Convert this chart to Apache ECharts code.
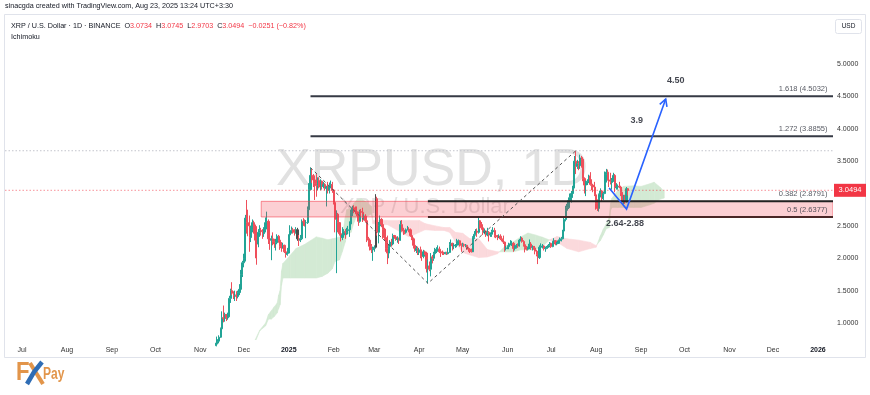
<!DOCTYPE html>
<html>
<head>
<meta charset="utf-8">
<title>XRPUSD 1D</title>
<script src="https://cdn.jsdelivr.net/npm/echarts@6/dist/echarts.min.js"></script>
<style>
html,body{margin:0;padding:0;background:#ffffff;}
#chart{width:870px;height:395px;}
</style>
</head>
<body>
<div id="chart"></div>
<script>
// ---------------- DATA ----------------
const startDate = '2024-11-09';
const firstOpen = 0.55;
const closes = [
  0.56,0.62,0.65,0.69,0.72,0.78,0.91,1.08,1.07,1.13,1.08,1.10,1.38,1.50,1.46,1.43,1.43,1.41,1.47,1.52,1.75,1.93,
  1.99,2.62,2.55,2.50,2.32,2.45,2.55,2.49,2.28,2.22,2.40,2.43,2.41,2.38,2.45,2.55,2.57,2.30,2.28,2.30,2.26,2.22,2.24,2.34,2.28,2.18,2.16,2.20,2.10,2.06,2.08,
  2.36,2.43,2.44,2.42,2.40,2.44,2.30,2.28,2.30,2.57,2.56,2.55,2.55,2.75,3.06,3.28,3.26,3.21,3.15,3.12,3.20,3.10,3.19,3.11,3.14,3.08,3.10,3.05,3.12,3.14,3.05,
  2.86,2.60,2.68,2.55,2.38,2.32,2.36,2.41,2.40,2.43,2.44,2.53,2.70,2.78,2.75,2.72,2.70,2.57,2.72,2.71,2.63,2.65,2.58,2.30,2.28,2.18,2.13,2.15,
  2.17,2.92,2.40,2.50,2.60,2.52,2.45,2.32,2.15,2.08,2.18,2.25,2.22,2.35,2.33,2.29,2.30,2.28,2.52,2.43,2.42,2.40,2.44,2.45,2.44,2.35,2.30,2.20,2.12,2.15,2.09,
  2.13,2.05,2.03,2.10,2.08,1.84,1.88,1.83,2.02,2.00,2.07,2.14,2.14,2.14,2.10,2.09,2.08,2.07,2.09,2.07,2.09,2.21,2.23,2.19,2.20,2.20,2.26,2.27,2.21,2.20,
  2.21,2.20,2.20,2.15,2.14,2.12,2.10,2.32,2.37,2.42,2.40,2.58,2.52,2.47,2.40,2.42,2.36,2.40,2.36,2.37,2.41,2.43,2.35,2.34,2.33,2.34,2.30,2.29,2.25,2.15,2.16,
  2.18,2.22,2.22,2.23,2.15,2.17,2.20,2.19,2.28,2.31,2.26,2.21,2.17,2.14,2.16,2.22,2.17,2.17,2.16,2.11,2.06,2.01,2.17,2.18,2.19,2.15,2.15,2.17,2.20,2.23,
  2.18,2.26,2.27,2.22,2.23,2.27,2.29,2.30,2.42,2.60,2.74,2.78,2.89,2.94,3.00,3.10,3.50,3.42,3.46,3.43,3.55,3.53,3.23,3.13,3.17,3.19,3.27,3.14,3.13,3.10,2.98,
  2.85,2.77,2.98,3.04,2.92,3.00,3.30,3.33,3.21,3.19,3.17,3.20,3.28,3.09,3.10,3.11,3.10,3.02,2.87,2.96,2.87,3.0745,3.0494
];
const highs = [
  0.57,0.64,0.67,0.79,0.75,0.81,0.93,1.18,1.27,1.16,1.14,1.16,1.42,1.53,1.63,1.49,1.50,1.49,1.50,1.60,1.82,1.96,
  2.07,2.67,2.90,2.75,2.66,2.50,2.60,2.58,2.52,2.37,2.45,2.51,2.47,2.45,2.48,2.63,2.72,2.60,2.44,2.35,2.40,2.30,2.30,2.37,2.36,2.29,2.25,2.24,2.21,2.14,2.16,
  2.37,2.51,2.49,2.47,2.45,2.48,2.47,2.36,2.36,2.60,2.62,2.60,2.59,2.80,3.16,3.40,3.38,3.30,3.28,3.30,3.25,3.25,3.22,3.20,3.18,3.16,3.12,3.18,3.17,3.20,3.18,
  3.07,2.92,2.74,2.70,2.56,2.45,2.48,2.45,2.45,2.47,2.50,2.57,2.75,2.81,2.82,2.80,2.80,2.72,2.75,2.76,2.78,2.68,2.68,2.60,2.33,2.30,2.22,2.18,
  2.20,2.99,2.95,2.56,2.66,2.62,2.60,2.47,2.33,2.35,2.22,2.28,2.30,2.38,2.36,2.35,2.34,2.32,2.58,2.59,2.47,2.44,2.46,2.50,2.48,2.46,2.37,2.32,2.20,2.19,2.18,
  2.16,2.18,2.07,2.13,2.12,2.10,1.98,1.95,2.08,2.05,2.10,2.16,2.17,2.20,2.18,2.12,2.12,2.10,2.10,2.10,2.16,2.25,2.29,2.24,2.23,2.22,2.30,2.29,2.28,2.23,
  2.24,2.23,2.22,2.20,2.17,2.15,2.15,2.34,2.42,2.45,2.46,2.65,2.58,2.56,2.50,2.46,2.43,2.47,2.42,2.40,2.44,2.48,2.47,2.39,2.36,2.37,2.37,2.31,2.35,2.26,2.19,
  2.20,2.24,2.28,2.27,2.25,2.20,2.22,2.23,2.30,2.34,2.33,2.28,2.22,2.19,2.18,2.29,2.25,2.20,2.19,2.19,2.13,2.08,2.20,2.23,2.22,2.20,2.18,2.19,2.22,2.25,
  2.24,2.27,2.31,2.28,2.25,2.29,2.32,2.33,2.44,2.64,2.81,2.84,2.94,3.00,3.04,3.12,3.58,3.66,3.52,3.50,3.60,3.58,3.56,3.25,3.20,3.22,3.29,3.33,3.22,3.15,3.18,
  3.00,2.91,3.00,3.08,3.05,3.03,3.34,3.38,3.37,3.26,3.32,3.24,3.32,3.30,3.16,3.14,3.18,3.12,3.05,2.98,2.98,3.10,3.0745
];
const lows = [
  0.54,0.56,0.60,0.64,0.67,0.70,0.77,0.90,1.01,1.02,1.03,1.05,1.09,1.31,1.43,1.37,1.34,1.34,1.38,1.43,1.50,1.71,
  1.86,1.95,2.38,2.34,2.10,2.25,2.40,2.38,2.00,1.90,2.17,2.33,2.35,2.30,2.33,2.40,2.48,2.22,2.13,1.97,2.20,2.16,2.12,2.22,2.24,2.13,2.10,2.15,2.08,2.01,2.04,
  2.07,2.33,2.38,2.38,2.35,2.38,2.27,2.19,2.25,2.28,2.50,2.49,2.31,2.53,2.73,3.05,3.16,3.10,2.90,2.95,3.05,3.08,3.05,3.06,3.08,3.05,2.80,3.00,3.00,3.08,3.01,
  2.83,2.40,1.77,2.40,2.35,2.26,2.28,2.33,2.30,2.36,2.37,2.33,2.50,2.65,2.70,2.68,2.65,2.50,2.55,2.65,2.56,2.60,2.55,2.25,2.18,2.12,2.08,1.96,
  2.10,2.15,2.35,2.23,2.45,2.48,2.30,2.28,2.10,1.91,2.00,2.12,2.18,2.20,2.30,2.27,2.24,2.22,2.27,2.41,2.36,2.37,2.38,2.43,2.40,2.33,2.28,2.15,2.10,2.08,2.05,
  2.05,2.00,1.96,2.00,2.05,1.78,1.61,1.80,1.72,1.92,1.96,2.04,2.08,2.10,2.08,2.02,2.05,2.05,2.06,2.05,2.06,2.08,2.15,2.12,2.14,2.16,2.17,2.20,2.18,2.10,
  2.18,2.17,2.17,2.13,2.10,2.08,2.09,2.10,2.30,2.35,2.33,2.38,2.45,2.44,2.36,2.37,2.33,2.34,2.26,2.33,2.33,2.39,2.32,2.31,2.28,2.31,2.28,2.26,2.22,2.10,2.12,
  2.14,2.14,2.20,2.19,2.10,2.12,2.15,2.16,2.18,2.26,2.24,2.18,2.09,2.12,2.12,2.14,2.13,2.12,2.13,2.06,2.03,1.91,1.99,2.14,2.15,2.12,2.10,2.14,2.16,2.17,
  2.16,2.17,2.24,2.20,2.20,2.22,2.25,2.26,2.29,2.40,2.57,2.66,2.76,2.85,2.86,2.94,3.08,3.30,3.38,3.36,3.38,3.40,3.19,3.00,2.96,3.13,3.16,3.12,3.05,3.02,2.96,
  2.75,2.73,2.72,2.94,2.88,2.90,2.99,3.17,3.20,3.10,3.14,3.06,3.18,3.02,3.06,3.06,3.08,2.96,2.85,2.83,2.84,2.86,2.9703
];
const darkCandles = ['2025-01-07', '2025-03-02'];

// Ichimoku cloud (Leading span A / B)
const cloudDates = [
  '2024-12-08','2024-12-12','2024-12-16','2024-12-18','2024-12-20','2024-12-22','2024-12-24','2024-12-25','2024-12-26','2024-12-27','2024-12-28',
  '2025-01-02','2025-01-06','2025-01-12','2025-01-20','2025-01-24','2025-01-28','2025-01-31',
  '2025-02-02','2025-02-05','2025-02-07','2025-02-09','2025-02-10','2025-02-13','2025-02-15','2025-02-17','2025-02-20','2025-02-24','2025-02-27','2025-02-28',
  '2025-03-05','2025-03-10','2025-03-18','2025-03-25',
  '2025-04-01','2025-04-05','2025-04-12','2025-04-18','2025-04-22','2025-04-26',
  '2025-05-01','2025-05-06','2025-05-12','2025-05-18','2025-05-25','2025-05-30',
  '2025-06-05','2025-06-10','2025-06-15','2025-06-20','2025-06-25','2025-06-30',
  '2025-07-05','2025-07-12','2025-07-20','2025-07-28',
  '2025-08-01','2025-08-04','2025-08-06','2025-08-08','2025-08-10','2025-08-11','2025-08-12','2025-08-16','2025-08-20','2025-08-27',
  '2025-09-01','2025-09-07','2025-09-10','2025-09-14','2025-09-17'
];
const spanA = [
  0.70,0.89,1.00,1.13,1.19,1.25,1.305,1.43,1.50,1.805,1.92,
  2.045,2.15,2.215,2.33,2.31,2.285,2.30,
  2.31,2.33,2.35,2.63,2.75,2.78,2.85,2.90,2.92,2.86,2.80,2.535,
  2.52,2.52,2.42,2.33,
  2.40,2.44,2.43,2.43,2.40,2.25,
  2.09,2.05,2.01,2.02,2.07,2.18,
  2.255,2.33,2.39,2.36,2.325,2.28,
  2.25,2.15,2.10,2.15,
  2.17,2.35,2.45,2.53,2.62,2.85,2.93,3.05,3.11,3.12,
  3.11,3.15,3.175,3.10,3.03
];
const spanB = [
  0.66,0.88,0.955,1.06,1.06,1.10,1.155,1.225,1.28,1.58,1.695,
  1.695,1.695,1.695,1.695,1.72,1.77,1.835,
  1.955,1.975,2.105,2.25,2.37,2.40,2.555,2.65,2.65,2.65,2.685,2.585,
  2.585,2.585,2.585,2.585,
  2.585,2.535,2.50,2.475,2.475,2.40,
  2.385,2.30,2.30,2.135,2.10,2.10,
  2.10,2.13,2.13,2.13,2.185,2.285,
  2.335,2.30,2.28,2.245,
  2.195,2.275,2.36,2.455,2.475,2.745,2.785,2.785,2.785,2.785,
  2.785,2.825,2.85,2.91,2.93
];

// Drawings
const fibExtStart = '2025-01-16';
const fibExtLevels = [['1.618', 4.5032], ['1.272', 3.8855]];
const fibRetStart = '2025-04-07';
const fibRetLevels = [['0.382', 2.8791], ['0.5', 2.6377]];
const zoneStart = '2024-12-13';
const zoneRange = [2.6377, 2.8791];
const swingPoints = [['2025-01-16', 3.40], ['2025-04-07', 1.613], ['2025-07-18', 3.6606]];
const highLevel = 3.6606;
const lastPrice = 3.0494;
const projection = [['2025-08-10', 3.085], ['2025-08-22', 2.76], ['2025-09-18', 4.46]];
const notes = [['4.50', '2025-09-25', 4.74], ['3.9', '2025-08-29', 4.12], ['2.64-2.88', '2025-08-21', 2.53]];
const quote = { o: '3.0734', h: '3.0745', l: '2.9703', c: '3.0494', chg: '\u22120.0251 (\u22120.82%)' };

// ---------------- CHART ----------------
const DAY = 86400000;
const T = s => Date.parse(s + 'T00:00:00Z');
const X0 = T('2024-07-01');
const xMin = X0 - 11.73 * DAY;
const xMax = X0 + 559.4 * DAY;
const yMin = 0.7375, yMax = 5.757;
const FONT = '"Liberation Sans", Arial, sans-serif';
const UP = '#22a496', DOWN = '#ef4f5b', DARK = '#4a4a4a';
const CLOUD_UP = '#d3ead4', CLOUD_DN = '#fbd9dc';

const candles = closes.map((c, i) => {
  const t = T(startDate) + i * DAY;
  const o = i === 0 ? firstOpen : closes[i - 1];
  const item = { value: [t, o, c, lows[i], highs[i]] };
  if (darkCandles.includes(new Date(t).toISOString().slice(0, 10))) {
    item.itemStyle = { color: DARK, color0: DARK, borderColor: DARK, borderColor0: DARK };
  }
  return item;
});

const cloudSegs = [];
for (let i = 0; i < cloudDates.length - 1; i++) {
  cloudSegs.push([T(cloudDates[i]), spanA[i], spanB[i], T(cloudDates[i + 1]), spanA[i + 1], spanB[i + 1]]);
}

const chart = echarts.init(document.getElementById('chart'), null, { renderer: 'canvas' });

const hLine = (y0, name, color, width, type, x0) => ({
  type: 'line', name, silent: true, symbol: 'none', animation: false,
  data: [[x0 !== undefined ? x0 : xMin, y0], [xMax, y0]],
  lineStyle: { color, width, type }, z: 5
});

const series = [];

// Ichimoku cloud
series.push({
  type: 'custom', name: 'cloud', silent: true, clip: true, z: 1, animation: false,
  data: cloudSegs,
  encode: { x: [0, 3], y: [1, 2, 4, 5] },
  renderItem(params, api) {
    const t1 = api.value(0), a1 = api.value(1), b1 = api.value(2);
    const t2 = api.value(3), a2 = api.value(4), b2 = api.value(5);
    const d1 = a1 - b1, d2 = a2 - b2;
    const polys = [];
    if (d1 * d2 < 0) {
      const f = d1 / (d1 - d2);
      const tc = t1 + (t2 - t1) * f, vc = a1 + (a2 - a1) * f;
      polys.push({ p: [[t1, a1], [tc, vc], [t1, b1]], up: d1 > 0 });
      polys.push({ p: [[tc, vc], [t2, a2], [t2, b2]], up: d2 > 0 });
    } else {
      polys.push({ p: [[t1, a1], [t2, a2], [t2, b2], [t1, b1]], up: (d1 + d2) >= 0 });
    }
    return {
      type: 'group',
      children: polys.map(q => {
        const col = q.up ? CLOUD_UP : CLOUD_DN;
        return { type: 'polygon', shape: { points: q.p.map(pt => api.coord(pt)) }, style: { fill: col, stroke: col, lineWidth: 0.6 } };
      })
    };
  }
});

// candles
series.push({
  type: 'candlestick', name: 'XRPUSD', data: candles, barWidth: 1.7, z: 3, animation: false,
  itemStyle: { color: UP, color0: DOWN, borderColor: UP, borderColor0: DOWN, borderWidth: 1 }
});

// support zone
series.push({
  type: 'custom', name: 'zone', silent: true, clip: true, z: 4, animation: false,
  data: [[T(zoneStart), xMax, zoneRange[0], zoneRange[1]]],
  renderItem(params, api) {
    const p1 = api.coord([api.value(0), api.value(3)]);
    const p2 = api.coord([api.value(1), api.value(2)]);
    return { type: 'rect', shape: { x: p1[0], y: p1[1], width: p2[0] - p1[0], height: p2[1] - p1[1] },
      style: { fill: 'rgba(242,54,69,0.24)', stroke: 'rgba(242,54,69,0.55)', lineWidth: 1 } };
  }
});

// horizontal dotted lines
series.push(hLine(highLevel, 'high', '#c3c5cc', 1, [1.5, 2]));
series.push(hLine(lastPrice, 'last', 'rgba(242,54,69,0.55)', 1, [1.5, 2]));

// fib lines
fibExtLevels.forEach(l => series.push(hLine(l[1], 'fib ' + l[0], '#363a45', 2, 'solid', T(fibExtStart))));
series.push(hLine(fibRetLevels[0][1], 'fib ' + fibRetLevels[0][0], '#222222', 2, 'solid', T(fibRetStart)));
series.push(hLine(fibRetLevels[1][1], 'fib ' + fibRetLevels[1][0], '#4a2626', 2, 'solid', T(fibRetStart)));

// fib labels
series.push({
  type: 'scatter', name: 'fibLabels', silent: true, z: 6, animation: false, symbolSize: 1,
  itemStyle: { color: 'rgba(0,0,0,0)' },
  data: fibExtLevels.concat(fibRetLevels).map(l => ({ value: [xMax, l[1]], name: l[0] + ' (' + l[1].toFixed(4) + ')' })),
  label: { show: true, formatter: p => p.name, position: [-5, -3], align: 'right', verticalAlign: 'bottom',
    fontSize: 7.5, fontFamily: FONT, color: '#2a2e39' }
});

// dashed swing path
series.push({
  type: 'line', name: 'swing', silent: true, symbol: 'none', z: 5, animation: false,
  data: swingPoints.map(p => [T(p[0]), p[1]]),
  lineStyle: { color: '#555', width: 1, type: [3, 3] }
});

// blue projection with arrow
series.push({
  type: 'custom', name: 'projection', silent: true, clip: false, z: 7, animation: false,
  data: [[T(projection[0][0]), projection[0][1]]],
  renderItem(params, api) {
    const pts = projection.map(p => api.coord([T(p[0]), p[1]]));
    const a = pts[pts.length - 1], b = pts[pts.length - 2];
    const ang = Math.atan2(b[1] - a[1], b[0] - a[0]);
    const L = 8, s = 0.5;
    const h1 = [a[0] + L * Math.cos(ang + s), a[1] + L * Math.sin(ang + s)];
    const h2 = [a[0] + L * Math.cos(ang - s), a[1] + L * Math.sin(ang - s)];
    const st = { stroke: '#2962ff', lineWidth: 1.6, fill: null };
    return { type: 'group', children: [
      { type: 'polyline', shape: { points: pts }, style: st },
      { type: 'polyline', shape: { points: [h1, a, h2] }, style: st }
    ] };
  }
});

// text notes
series.push({
  type: 'scatter', name: 'notes', silent: true, z: 8, animation: false, symbolSize: 1,
  itemStyle: { color: 'rgba(0,0,0,0)' },
  data: notes.map(n => ({ value: [T(n[1]), n[2]], name: n[0] })),
  label: { show: true, formatter: p => p.name, position: 'inside', fontSize: 9, fontWeight: 'bold',
    fontFamily: FONT, color: '#131722' }
});

const option = {
  animation: false,
  useUTC: true,
  backgroundColor: '#ffffff',
  textStyle: { fontFamily: FONT },
  grid: { left: 5, right: 37, top: 15, bottom: 55 },
  xAxis: {
    type: 'time', min: xMin, max: xMax,
    splitNumber: 20, minInterval: 28 * DAY, maxInterval: 31 * DAY,
    axisLine: { show: false }, axisTick: { show: false }, splitLine: { show: false },
    axisLabel: {
      fontSize: 7, color: '#333', margin: 7, fontFamily: FONT, hideOverlap: false,
      formatter: { year: '{b|{yyyy}}', month: '{MMM}', day: '', hour: '', minute: '', second: '', millisecond: '' },
      rich: { b: { fontWeight: 'bold', fontSize: 7, color: '#131722', fontFamily: FONT } }
    }
  },
  yAxis: {
    type: 'value', position: 'right', min: yMin, max: yMax, splitNumber: 10, scale: true,
    axisLine: { show: false }, axisTick: { show: false }, splitLine: { show: false },
    axisLabel: { fontSize: 7, color: '#333', margin: 4, fontFamily: FONT, showMinLabel: false, showMaxLabel: false,
      formatter: v => (v > 5.2 ? '' : v.toFixed(4)) }
  },
  series
};
chart.setOption(option);

// ---------------- overlay graphics ----------------
const tagY = chart.convertToPixel({ gridIndex: 0 }, [xMax, lastPrice])[1];
const graphic = [
  { type: 'text', z: 0, left: 276, top: 145, style: { text: 'XRPUSD, 1D', font: '52px ' + FONT, fill: '#e1e1e1' } },
  { type: 'text', z: 0, left: 340, top: 196, style: { text: 'XRP / U.S. Dollar', font: '22px ' + FONT, fill: '#e3e3e3' } },
  { type: 'rect', z: 90, shape: { x: 4.5, y: 14.5, width: 861, height: 343 }, style: { fill: null, stroke: '#e0e3eb', lineWidth: 1 } },
  { type: 'text', z: 100, left: 5, top: 3, style: { text: 'sinacgda created with TradingView.com, Aug 23, 2025 13:24 UTC+3:30', font: '7.2px ' + FONT, fill: '#131722' } },
  { type: 'text', z: 100, left: 11, top: 23, style: {
      text: '{d|XRP / U.S. Dollar \u00b7 1D \u00b7 BINANCE  O}{r|' + quote.o + '}{d|  H}{r|' + quote.h + '}{d|  L}{r|' + quote.l + '}{d|  C}{r|' + quote.c + '}{r|  ' + quote.chg + '}',
      font: '7.2px ' + FONT,
      rich: { d: { fill: '#131722', font: '7.2px ' + FONT }, r: { fill: '#f23645', font: '7.2px ' + FONT } } } },
  { type: 'text', z: 100, left: 11, top: 34, style: { text: 'Ichimoku', font: '7.2px ' + FONT, fill: '#131722' } },
  { type: 'rect', z: 100, shape: { x: 835.5, y: 19.5, width: 26, height: 14, r: 2 }, style: { fill: '#fff', stroke: '#e0e3eb', lineWidth: 1 } },
  { type: 'text', z: 101, x: 848.5, y: 26.5, style: { text: 'USD', font: '6.5px ' + FONT, fill: '#131722', align: 'center', verticalAlign: 'middle' } },
  { type: 'rect', z: 100, shape: { x: 834, y: tagY - 6.5, width: 32, height: 13 }, style: { fill: '#f23645' } },
  { type: 'text', z: 101, x: 850, y: tagY, style: { text: lastPrice.toFixed(4), font: '7.5px ' + FONT, fill: '#ffffff', align: 'center', verticalAlign: 'middle' } },
  // logo
  { type: 'text', z: 100, x: 16, y: 360, scaleX: 0.85, style: { text: 'F', font: 'bold 26px ' + FONT, fill: '#e2954a' } },
  { type: 'polyline', z: 101, shape: { points: [[27, 384], [34, 372], [42, 362]] }, style: { stroke: '#2f6db5', lineWidth: 4.5, fill: null } },
  { type: 'polyline', z: 100, shape: { points: [[30, 363], [43, 384]] }, style: { stroke: '#e2954a', lineWidth: 4, fill: null } },
  { type: 'text', z: 100, x: 43, y: 367, scaleX: 0.75, style: { text: 'Pay', font: 'bold 16px ' + FONT, fill: '#e2954a' } }
];
chart.setOption({ graphic });
</script>
</body>
</html>
